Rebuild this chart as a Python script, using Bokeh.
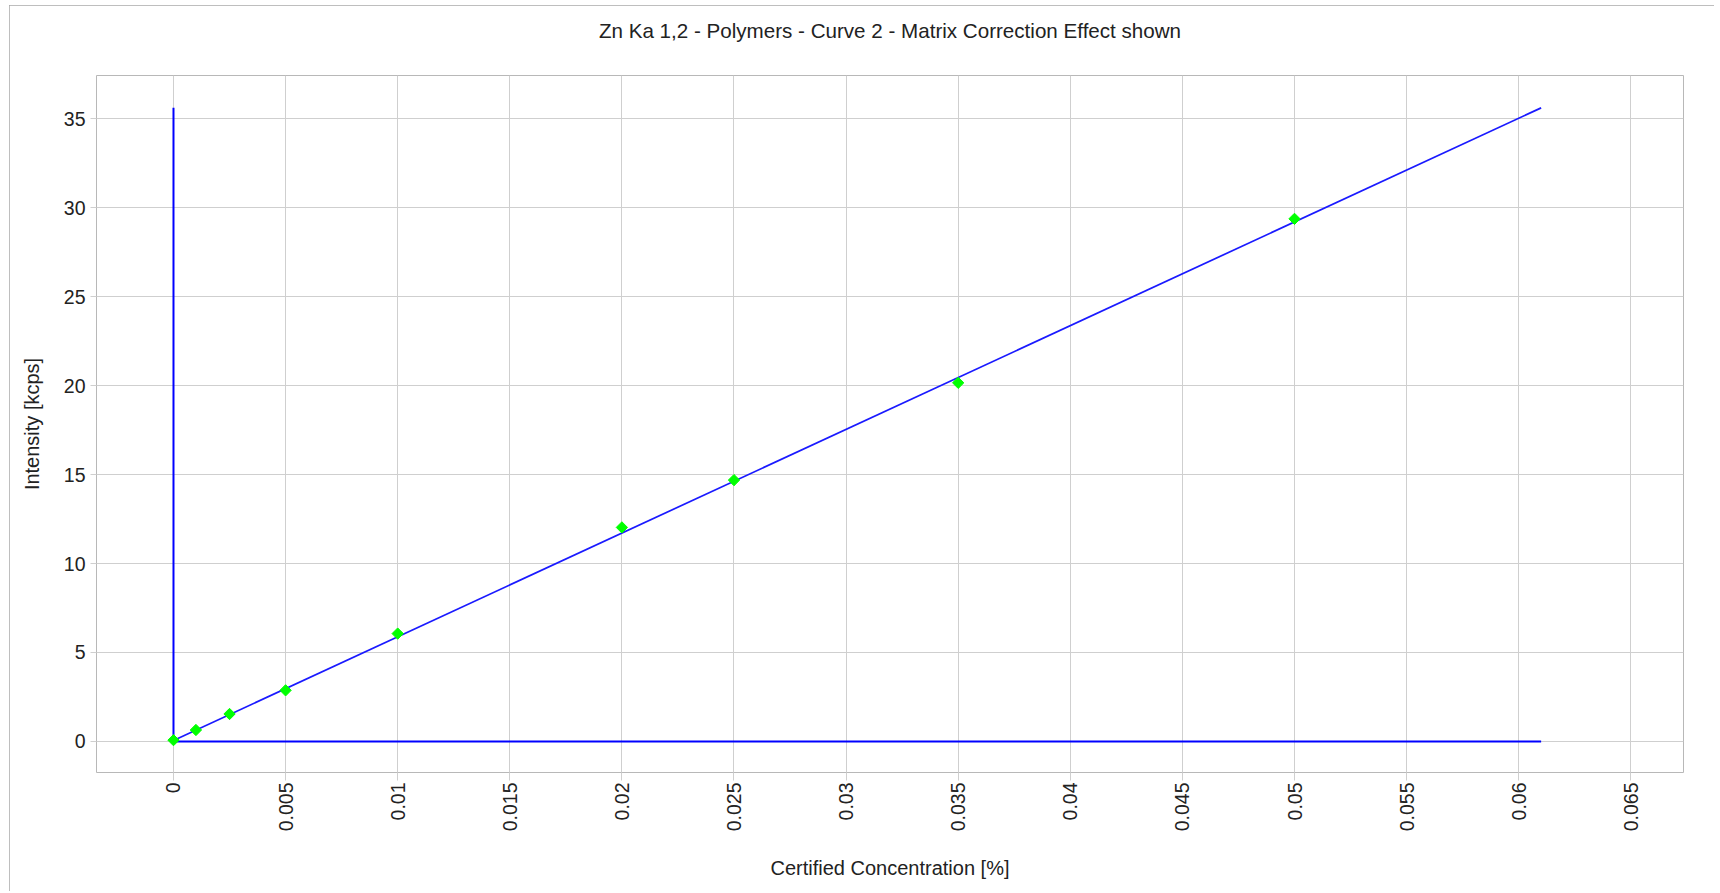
import math
from bokeh.plotting import figure
from bokeh.models import FixedTicker, Range1d, Title
from bokeh.embed import file_html
from bokeh.resources import INLINE

# ---- data ----
conc = [0.0, 0.001, 0.0025, 0.005, 0.01, 0.02, 0.025, 0.035, 0.05]
intensity = [0.07, 0.64, 1.54, 2.87, 6.06, 12.03, 14.69, 20.16, 29.38]

calib_x = [0.0, 0.061]
calib_y = [0.05, 35.62]

vert_x = [0.0, 0.0]
vert_y = [0.0, 35.62]
horiz_x = [0.0, 0.061]
horiz_y = [0.0, 0.0]

x_ticks = [0, 0.005, 0.01, 0.015, 0.02, 0.025, 0.03, 0.035, 0.04, 0.045, 0.05, 0.055, 0.06, 0.065]
x_tick_labels = ["0", "0.005", "0.01", "0.015", "0.02", "0.025", "0.03", "0.035", "0.04",
                 "0.045", "0.05", "0.055", "0.06", "0.065"]
y_ticks = [0, 5, 10, 15, 20, 25, 30, 35]
y_tick_labels = ["0", "5", "10", "15", "20", "25", "30", "35"]

title_text = "Zn Ka 1,2 - Polymers - Curve 2 - Matrix Correction Effect shown"
x_title = "Certified Concentration [%]"
y_title = "Intensity [kcps]"

FONT = "Liberation Sans"
GRID = "#cfcfcf"
TXT = "#222222"

p = figure(width=1705, height=886, output_backend="svg", toolbar_location=None,
           x_range=Range1d(-0.003434, 0.06735), y_range=Range1d(-1.75, 37.44),
           min_border_left=87, min_border_right=31, min_border_top=70, min_border_bottom=119)

p.background_fill_color = "white"
p.border_fill_color = "white"
p.outline_line_color = "#b8b8b8"
p.outline_line_width = 1
p.styles = {"position": "relative", "left": "9px", "top": "5px",
            "outline": "2px solid #a8a8a8", "outline-offset": "-2px"}

# title (a blank second line lifts it away from the frame)
p.add_layout(Title(text=title_text + "\n ", align="center", text_font=FONT,
                   text_font_size="20.6px", text_font_style="normal", text_color=TXT,
                   text_line_height=1.2, standoff=12), "above")

# axes
p.xaxis.ticker = FixedTicker(ticks=x_ticks)
p.yaxis.ticker = FixedTicker(ticks=y_ticks)
p.xaxis.major_label_overrides = {t: s for t, s in zip(x_ticks, x_tick_labels)}
p.yaxis.major_label_overrides = {t: s for t, s in zip(y_ticks, y_tick_labels)}
p.xaxis.major_label_orientation = math.pi / 2

for ax in (p.xaxis, p.yaxis):
    ax.axis_line_color = None
    ax.major_tick_line_color = GRID
    ax.major_tick_in = 0
    ax.minor_tick_line_color = None
    ax.major_label_text_font = FONT
    ax.major_label_text_font_size = "19.5px"
    ax.major_label_text_color = TXT
    ax.axis_label_text_font = FONT
    ax.axis_label_text_font_size = "20px"
    ax.axis_label_text_font_style = "normal"
    ax.axis_label_text_color = TXT

p.xaxis.major_tick_out = 8
p.yaxis.major_tick_out = 6
p.xaxis.major_label_standoff = 2
p.yaxis.major_label_standoff = 5
p.xaxis.axis_label = x_title
p.yaxis.axis_label = y_title
p.xaxis.axis_label_standoff = 23
p.yaxis.axis_label_standoff = 18

p.grid.grid_line_color = GRID
p.grid.grid_line_width = 1

# blue lines
p.line(vert_x, vert_y, line_color="#0000ff", line_width=2)
p.line(horiz_x, horiz_y, line_color="#0000ff", line_width=2)
p.line(calib_x, calib_y, line_color="#1a1aff", line_width=1.7)

# points
p.scatter(conc, intensity, marker="square", angle=math.pi / 4, size=8,
          fill_color="#00ff00", line_color="#00ff00", line_width=1)

open("out.html", "w").write(file_html(p, INLINE))
